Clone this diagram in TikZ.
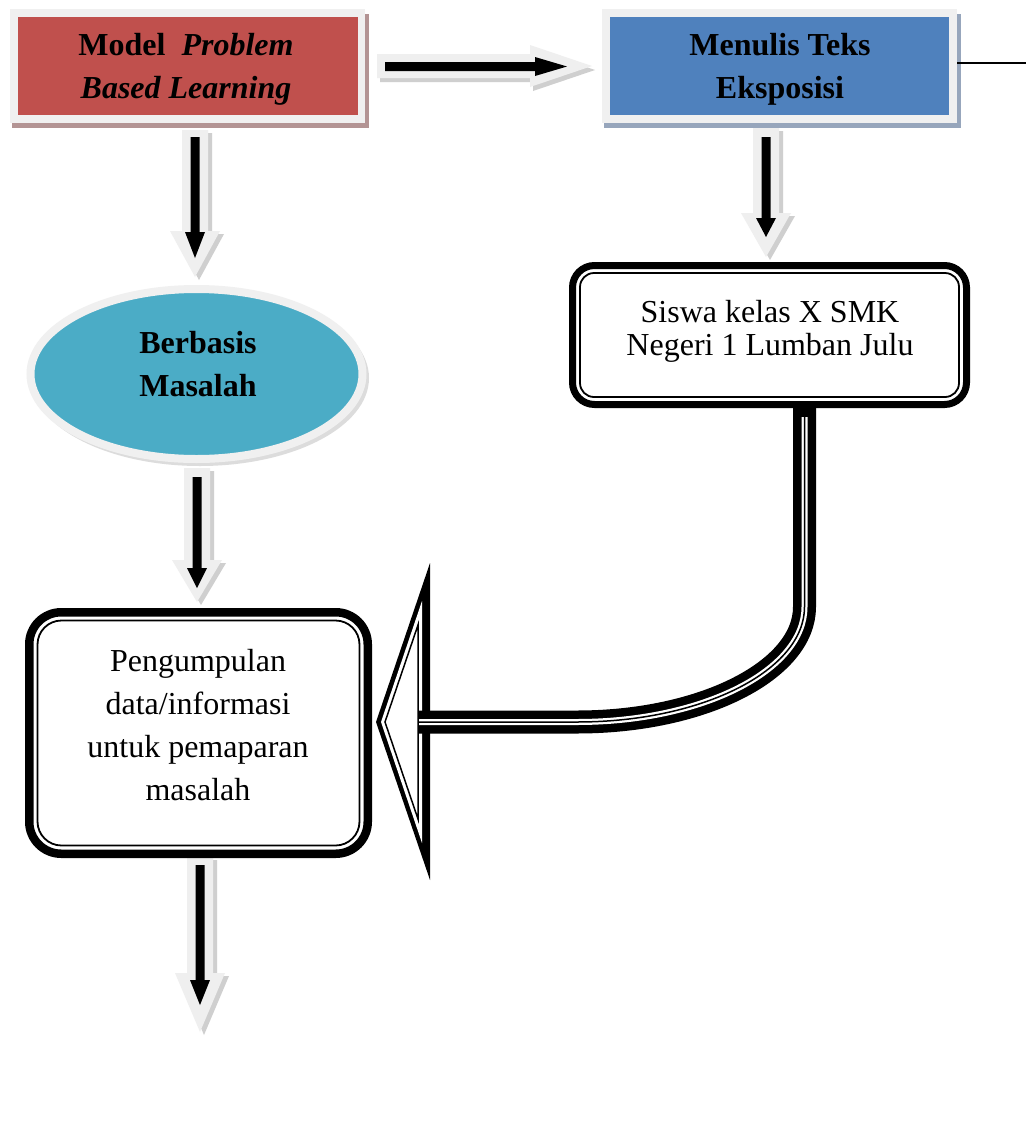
\documentclass[tikz,border=0pt]{standalone}
\usepackage{fontspec}
\setmainfont{Liberation Serif}
\usetikzlibrary{shapes.geometric}
\definecolor{pblred}{HTML}{C0504D}
\definecolor{pblblue}{HTML}{4F81BD}
\definecolor{tealc}{HTML}{4BACC6}
\definecolor{framegray}{HTML}{F0F0F0}
\definecolor{redshadow}{HTML}{B39494}
\definecolor{blueshadow}{HTML}{97A6BC}
\definecolor{arrgray}{HTML}{EFEFEF}
\definecolor{arrshadow}{HTML}{CFCFCF}
\definecolor{ellshadow}{HTML}{DCDCDC}
\tikzset{
  txt/.style={align=center, inner sep=0pt, font=\fontsize{32}{43}\selectfont},
  boldtxt/.style={align=center, inner sep=0pt, font=\fontsize{32}{43}\selectfont\bfseries},
  thickframe/.style={draw, fill=white},
  thinframe/.style={draw, line width=1.8pt},
}
% #1 cx, #2 gray top, #3 gray head start, #4 gray tip, #5 black top, #6 black head start, #7 black tip
\newcommand{\vblockarrow}[7]{%
  \fill[arrshadow, shift={(4,3)}] (#1-13,#2) -- (#1+13,#2) -- (#1+13,#3) -- (#1+25,#3) -- (#1,#4) -- (#1-25,#3) -- (#1-13,#3) -- cycle;
  \fill[arrgray] (#1-13,#2) -- (#1+13,#2) -- (#1+13,#3) -- (#1+25,#3) -- (#1,#4) -- (#1-25,#3) -- (#1-13,#3) -- cycle;
  \fill[black] (#1-4.5,#5) -- (#1+4.5,#5) -- (#1+4.5,#6) -- (#1+10,#6) -- (#1,#7) -- (#1-10,#6) -- (#1-4.5,#6) -- cycle;
}
\begin{document}
\begin{tikzpicture}[x=1pt,y=-1pt]
\useasboundingbox (0,0) rectangle (1026,1125);
\fill[white] (0,0) rectangle (1026,1125);

% ---- top left box
\fill[redshadow] (12,14) rectangle (369,128);
\fill[framegray] (10,9) rectangle (365,123);
\node[fill=pblred, minimum width=340pt, minimum height=98pt, inner sep=0pt] (pbl) at (188,66) {};
\node[boldtxt] (pbltext) at (186,69) {Model~ \textit{Problem}\\\textit{Based Learning}};

% ---- top right box
\fill[blueshadow] (604,14) rectangle (961,128);
\fill[framegray] (602,9) rectangle (957,123);
\node[fill=pblblue, minimum width=339pt, minimum height=98pt, inner sep=0pt] (mte) at (779.5,66) {};
\node[boldtxt] (mtetext) at (780,69) {Menulis Teks\\Eksposisi};
\coordinate (edge) at (1026,63);
\draw[line width=2pt] ([xshift=8pt,yshift=3pt]mte.east) -- (edge);

% ---- horizontal block arrow
\fill[arrshadow, shift={(3,4)}] (377,54) -- (530,54) -- (530,45) -- (592,66) -- (530,87) -- (530,78) -- (377,78) -- cycle;
\fill[arrgray] (377,54) -- (530,54) -- (530,45) -- (592,66) -- (530,87) -- (530,78) -- (377,78) -- cycle;
\fill[black] (385,62) -- (535,62) -- (535,57) -- (567,66.5) -- (535,76) -- (535,71) -- (385,71) -- cycle;

% ---- vertical block arrows
\vblockarrow{195}{130}{231}{277}{137}{232}{258}
\vblockarrow{197}{468}{560}{602}{477}{568}{588}
\vblockarrow{766}{128}{213}{257}{137}{218}{237}
\vblockarrow{200}{857}{973}{1032}{865}{980}{1005}

% ---- ellipse
\fill[ellshadow] (200,378) ellipse [x radius=169, y radius=88];
\node[ellipse, draw=framegray, line width=8pt, fill=tealc, minimum width=332pt, minimum height=170pt, inner sep=0pt] (bm) at (196.5,374) {};
\node[boldtxt] (bmtext) at (198,364) {Berbasis\\Masalah};

% ---- Siswa box
\node[thickframe, line width=7pt, rounded corners=22pt, minimum width=394pt, minimum height=139pt, inner sep=0pt] (siswa) at (769.5,335) {};
\draw[thinframe, rounded corners=14pt] (580,273) rectangle (959,397);
\node[align=center, inner sep=0pt, font=\fontsize{32}{33}\selectfont] (siswatext) at (770,331.5) {Siswa kelas X SMK\\Negeri 1 Lumban Julu};

% ---- Pengumpulan box
\node[thickframe, line width=8.5pt, rounded corners=32pt, minimum width=338.5pt, minimum height=241.5pt, inner sep=0pt] (pk) at (198.5,733) {};
\draw[thinframe, rounded corners=24pt] (37.5,620.5) rectangle (359.5,845.5);
\node[txt] (pktext) at (198,725) {Pengumpulan\\data/informasi\\untuk pemaparan\\masalah};

% ---- big curved outlined arrow
\fill[black] (430,563) -- (376,722) -- (430,880) -- cycle;
\fill[white] (422,601) -- (381,722) -- (422,843) -- cycle;
\draw[line width=1.5pt, fill=white] (418,625) -- (385,722) -- (418,819) -- cycle;
\coordinate (s0) at (804.5,404);
\coordinate (s1) at (804.5,417);
\coordinate (s2) at (804.5,607);
\coordinate (s3) at (577,722);
\coordinate (hd) at (419,722);
\draw[line width=23pt] (s0) -- (s2) .. controls (804.5,670) and (703,722) .. (s3) -- (hd);
\draw[white, line width=6pt] (s1) -- (s2) .. controls (804.5,670) and (703,722) .. (s3) -- (hd);
\draw[line width=1.5pt] (s1) -- (s2) .. controls (804.5,670) and (703,722) .. (s3) -- (hd);
\end{tikzpicture}
\end{document}
